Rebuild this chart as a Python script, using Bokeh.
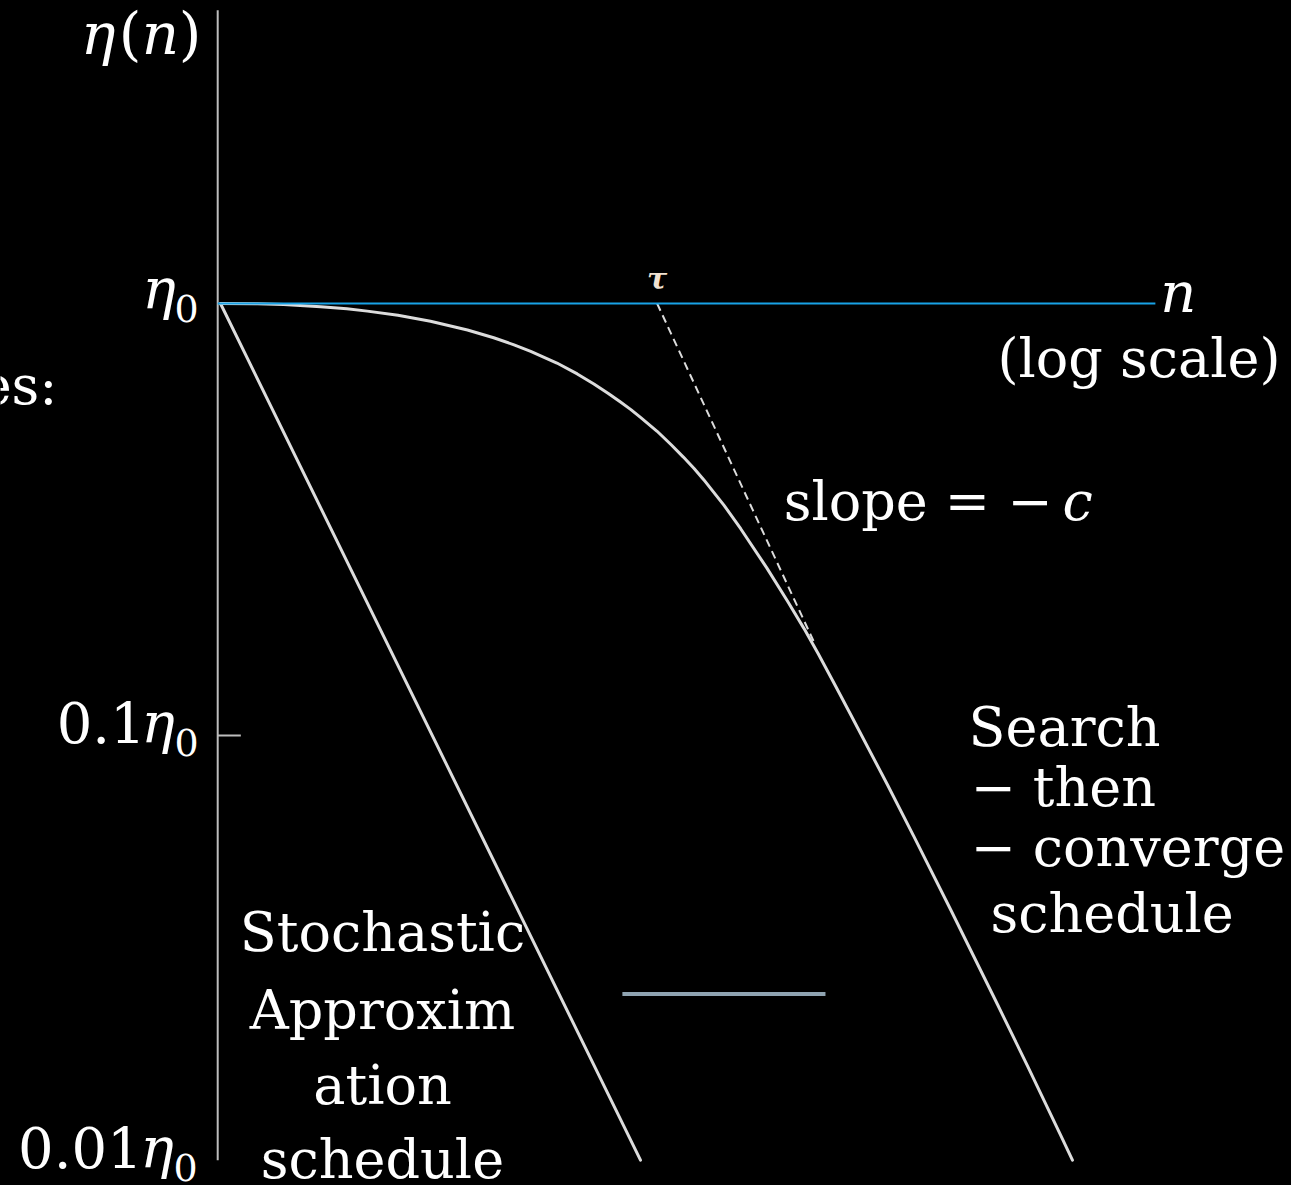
from bokeh.plotting import figure
from bokeh.models import Range1d, ColumnDataSource
from bokeh.embed import file_html
from bokeh.resources import INLINE
from bokeh.core.properties import value

# Learning-rate schedules eta(n)/eta0 against iteration n, both on log scales.
search_n = [1, 1.5, 2, 3, 4, 5, 7, 10, 15, 20, 25, 30, 40, 50, 60, 70, 80,
            90, 100, 120, 140, 160, 180, 200, 250, 300, 400, 500, 600, 700,
            850, 1000, 1500, 2000, 3000, 5000, 7000, 10000, 11400]
search_eta = [1.0, 0.998, 0.994, 0.983, 0.972, 0.960, 0.939, 0.910, 0.868,
              0.833, 0.802, 0.775, 0.728, 0.687, 0.651, 0.620, 0.592, 0.568,
              0.545, 0.506, 0.471, 0.441, 0.415, 0.391, 0.341, 0.301, 0.244,
              0.205, 0.177, 0.155, 0.130, 0.112, 0.0769, 0.0585, 0.0395,
              0.0239, 0.0171, 0.0119, 0.0104]

stoch_n = [1, 100]
stoch_eta = [1.0, 0.0104]

tau = 120
asymptote_n = [tau, 680]
asymptote_eta = [1.0, 0.162]

eta0_line_n = [0.97, 28300]
eta0_line_eta = [1.0, 1.0]

key_n = [82, 760]
key_eta = [0.0252, 0.0252]

tick_values = [1.0, 0.1, 0.01]
tick_prefix = ["", "0.1", "0.01"]

AXIS_N = 0.97
AXIS_TOP = 4.77
AXIS_BOTTOM = 0.0104
TICK_END_N = 1.25

FONT = value("DejaVu Serif")
WHITE = "#ffffff"
CURVE = "#dcdcdc"
AXIS = "#bdbdbd"
BLUE = "#18a2e6"

p = figure(width=1291, height=1185, x_axis_type="log", y_axis_type="log",
           x_range=Range1d(0.08963, 125893), y_range=Range1d(0.009085, 5.027),
           x_axis_location=None, y_axis_location=None,
           min_border=0, toolbar_location=None, output_backend="svg",
           background_fill_color="black", border_fill_color="black",
           outline_line_color=None)
p.grid.visible = False

# vertical axis with its single inward tick
p.segment(x0=[AXIS_N], y0=[AXIS_BOTTOM], x1=[AXIS_N], y1=[AXIS_TOP],
          line_color=AXIS, line_width=2)
p.segment(x0=[AXIS_N], y0=[0.1], x1=[TICK_END_N], y1=[0.1],
          line_color=AXIS, line_width=2)

# schedules
p.line(stoch_n, stoch_eta, line_color=CURVE, line_width=3, line_cap="round")
p.line(search_n, search_eta, line_color=CURVE, line_width=3,
       line_cap="round", line_join="round")
p.line(asymptote_n, asymptote_eta, line_color=CURVE, line_width=2,
       line_dash="8 5")
p.line(eta0_line_n, eta0_line_eta, line_color=BLUE, line_width=2)
p.line(key_n, key_eta, line_color="#8fa3b1", line_width=4)

# tick labels  c·eta_0
ticks = ColumnDataSource(dict(
    x=[AXIS_N] * 3, y=tick_values, prefix=tick_prefix, eta=["η"] * 3,
    sub=["0"] * 3,
    px=[-72, -72, -75], ex=[-42, -43, -44], sx=[-19, -19, -20],
    dy=[-15, -13, -20], sdy=[5, 7, 0]))
p.text(x="x", y="y", text="prefix", source=ticks, x_offset="px",
       y_offset="dy", text_align="right", text_baseline="alphabetic",
       text_color=WHITE, text_font=FONT, text_font_size=value("56px"))
p.text(x="x", y="y", text="eta", source=ticks, x_offset="ex",
       y_offset="dy", text_align="right", text_baseline="alphabetic",
       text_color=WHITE, text_font=FONT, text_font_style="italic",
       text_font_size=value("56px"))
p.text(x="x", y="y", text="sub", source=ticks, x_offset="sx",
       y_offset="sdy", text_align="right", text_baseline="alphabetic",
       text_color=WHITE, text_font=FONT, text_font_size=value("38px"))

# axis title eta(n)
title = ColumnDataSource(dict(
    x=[AXIS_N] * 4, y=[AXIS_TOP] * 4, text=["η", "(", "n", ")"],
    dx=[-137, -99, -76, -39], style=["italic", "normal", "italic", "normal"]))
p.text(x="x", y="y", text="text", source=title, x_offset="dx", y_offset=24,
       text_align="left", text_baseline="alphabetic", text_color=WHITE,
       text_font=FONT, text_font_style="style", text_font_size=value("58px"))

# n axis label at the end of the eta0 line
p.text(x=[eta0_line_n[1]], y=[1.0], text=["n"], x_offset=5, y_offset=-11,
       text_align="left", text_baseline="alphabetic", text_color=WHITE,
       text_font=FONT, text_font_style="italic", text_font_size=value("56px"))
p.text(x=[5012], y=[0.746], text=["(log scale)"], text_align="left",
       text_baseline="alphabetic", text_color=WHITE, text_font=FONT,
       text_font_size=value("54px"))

# tau marker above the eta0 line
p.text(x=[tau], y=[1.0], text=["τ"], y_offset=-25, text_align="center",
       text_baseline="middle", text_color="#f2e2d2", text_font=FONT,
       text_font_style="bold italic", text_font_size=value("30px"))

# slope annotation
p.text(x=[9162], y=[0.3481], text=["slope = −"], text_align="right",
       text_baseline="alphabetic", text_color=WHITE, text_font=FONT,
       text_font_size=value("54px"))
p.text(x=[10220], y=[0.3481], text=["c"], text_align="left",
       text_baseline="alphabetic", text_color=WHITE, text_font=FONT,
       text_font_style="italic", text_font_size=value("54px"))

# fragment of a heading on the left edge
p.text(x=[0.1675], y=[0.6464], text=["es:"], text_align="right",
       text_baseline="alphabetic", text_color=WHITE, text_font=FONT,
       text_font_size=value("54px"))

# curve captions
p.text(x=[3648, 3724, 3724, 4642], y=[0.10437, 0.07579, 0.05505, 0.03870],
       text=["Search", "− then", "− converge", "schedule"],
       text_align="left", text_baseline="alphabetic", text_color=WHITE,
       text_font=FONT, text_font_size=value("54px"))
p.text(x=[5.906] * 4, y=[0.03500, 0.02310, 0.01547, 0.01046],
       text=["Stochastic", "Approxim", "ation", "schedule"],
       text_align="center", text_baseline="alphabetic", text_color=WHITE,
       text_font=FONT, text_font_size=value("54px"))

html = file_html(p, INLINE)
page_style = ("<style>html,body{margin:0;padding:0;background:#000000;}"
              "*{border:none!important;outline:none!important;}</style>")
html = html.replace("</head>", page_style + "</head>", 1)
html = html.replace("<body>", '<body style="margin:0;background:#000000;">', 1)
open("out.html", "w").write(html)
